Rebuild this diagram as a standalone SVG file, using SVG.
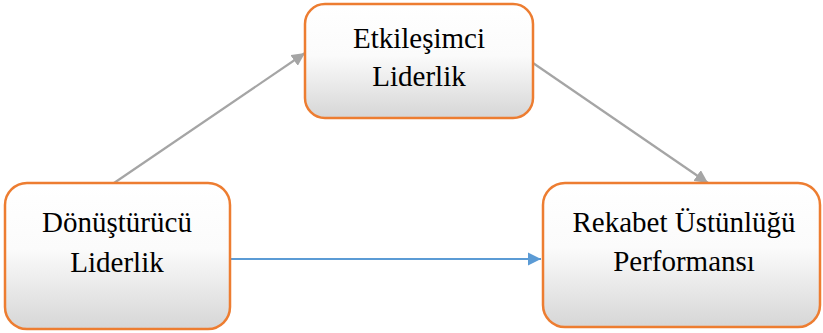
<svg xmlns="http://www.w3.org/2000/svg" width="823" height="333" viewBox="0 0 823 333">
<style>
.box{stroke:#ED7D31;stroke-width:2.5;fill:url(#g)}
.t{font-size:29px;fill:#000;text-anchor:middle}
.gray{stroke:#A5A5A5;stroke-width:2.2;fill:none}
.blue{stroke:#5B9BD5;stroke-width:2.2;fill:none}
</style>
<defs>
<linearGradient id="g" x1="0" y1="0" x2="0" y2="1">
<stop offset="0" stop-color="#ffffff"/>
<stop offset="0.45" stop-color="#fbfbfb"/>
<stop offset="1" stop-color="#d6d6d6"/>
</linearGradient>
<marker id="ag" viewBox="0 0 10 10" refX="10" refY="5" markerWidth="6" markerHeight="6" orient="auto" markerUnits="strokeWidth">
<path d="M0,0 L10,5 L0,10 z" fill="#A5A5A5"/>
</marker>
<marker id="ab" viewBox="0 0 10 10" refX="10" refY="5" markerWidth="6" markerHeight="6" orient="auto" markerUnits="strokeWidth">
<path d="M0,0 L10,5 L0,10 z" fill="#5B9BD5"/>
</marker>
</defs>
<g id="connectors">
<line class="gray" x1="114" y1="183" x2="305" y2="53" marker-end="url(#ag)"/>
<line class="gray" x1="533" y1="63" x2="708" y2="183" marker-end="url(#ag)"/>
<line class="blue" x1="230" y1="259" x2="541" y2="259" marker-end="url(#ab)"/>
</g>
<g id="etkilesimci">
<rect class="box" x="305" y="4" width="228" height="114" rx="20"/>
<text class="t" x="419" y="48" font-family="Liberation Serif">Etkileşimci</text>
<text class="t" x="419" y="86" font-family="Liberation Serif">Liderlik</text>
</g>
<g id="donusturucu">
<rect class="box" x="5" y="183" width="225" height="146" rx="22"/>
<text class="t" x="117" y="232" font-family="Liberation Serif">Dönüştürücü</text>
<text class="t" x="117" y="272" font-family="Liberation Serif">Liderlik</text>
</g>
<g id="rekabet">
<rect class="box" x="543" y="183" width="277" height="144" rx="22"/>
<text class="t" x="684" y="232" font-family="Liberation Serif">Rekabet Üstünlüğü</text>
<text class="t" x="684" y="271" font-family="Liberation Serif">Performansı</text>
</g>
</svg>
